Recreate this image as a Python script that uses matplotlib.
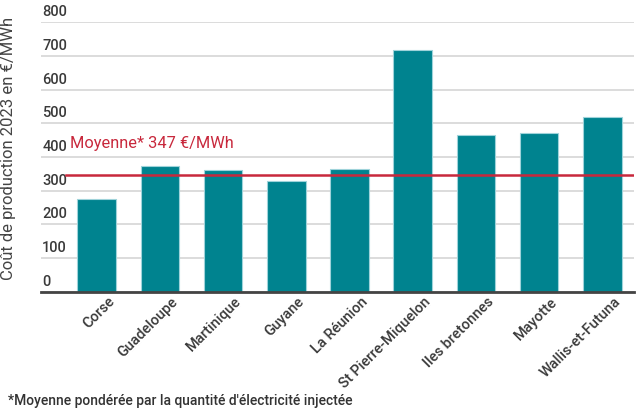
import matplotlib
matplotlib.use("Agg")
import matplotlib.pyplot as plt
import matplotlib.transforms as mtransforms

categories = ["Corse", "Guadeloupe", "Martinique", "Guyane", "La Réunion",
              "St Pierre-Miquelon", "Iles bretonnes", "Mayotte", "Wallis-et-Futuna"]
values = [274, 372, 362, 328, 365, 717, 464, 470, 520]
mean_value = 347
yticks = [0, 100, 200, 300, 400, 500, 600, 700, 800]

plt.rcParams['font.family'] = ['Roboto', 'DejaVu Sans']

fig = plt.figure(figsize=(6.38, 4.16), dpi=100)
ax = fig.add_axes([41/638, 1-291.7/416, (634-41)/638, (291.7-22.3)/416])

x = list(range(len(categories)))
ax.bar(x, values, width=0.61, color="#00838f", edgecolor="#9fd3da", linewidth=0.8, zorder=3)
ax.set_xlim(-0.88, 8.5)
ax.set_ylim(0, 800)

ax.set_yticks(yticks)
ax.yaxis.grid(True, color="#d6d6d6", linewidth=1.2, zorder=0)
ax.tick_params(axis='y', length=0, labelleft=False)
for t in yticks:
    ax.text(-0.86, t + 9, str(t), ha='left', va='bottom', fontsize=10.5, color="#3a3a3a",
            fontweight='medium', transform=ax.transData)

ax.set_xticks(x)
ax.set_xticklabels(categories, rotation=45, ha='right', rotation_mode='anchor',
                   fontsize=10.5, color="#3a3a3a", fontweight='medium')
ax.tick_params(axis='x', length=0, pad=2)
offset = mtransforms.ScaledTranslation(11/100, 0, fig.dpi_scale_trans)
for lbl in ax.get_xticklabels():
    lbl.set_transform(lbl.get_transform() + offset)

for s in ['top', 'right', 'left']:
    ax.spines[s].set_visible(False)
ax.spines['bottom'].set_color("#444444")
ax.spines['bottom'].set_linewidth(2)
ax.spines['bottom'].set_zorder(4)

ax.plot([-0.48, 8.5], [mean_value, mean_value], color="#c8283c", linewidth=1.8, zorder=4)
ax.text(-0.42, mean_value + 92, "Moyenne* 347 €/MWh", color="#c8283c", fontsize=11.8,
        ha='left', va='center')

fig.text(9/638, 1-148/416, "Coût de production 2023 en €/MWh", rotation=90,
         ha='center', va='center', fontsize=12, color="#444444")
fig.text(8/638, 1-401/416, "*Moyenne pondérée par la quantité d'électricité injectée",
         ha='left', va='center', fontsize=10, color="#333333", fontweight='medium')

fig.savefig("out.png", dpi=100)
